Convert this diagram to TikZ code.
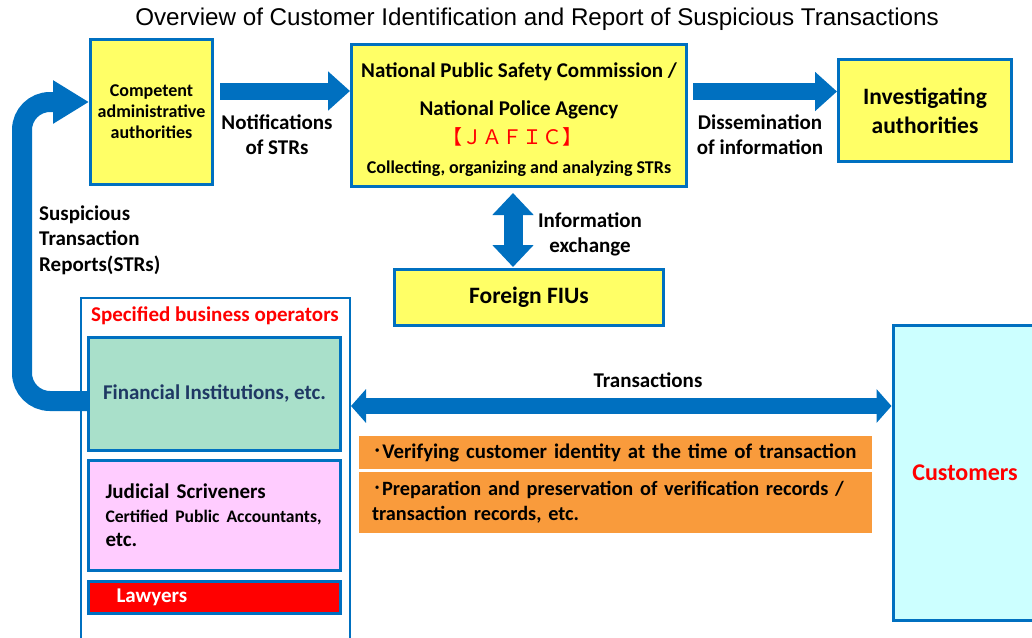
\documentclass[tikz,border=0pt]{standalone}
\usepackage{fontspec}
\setmainfont{Carlito}
\newfontfamily\titlefont{Liberation Sans}
\newfontfamily\cjk{Noto Sans CJK JP}
\usetikzlibrary{arrows.meta}
\definecolor{jblue}{HTML}{0070C0}
\definecolor{jyellow}{HTML}{FFFF66}
\definecolor{jgreen}{HTML}{A9E0CA}
\definecolor{jpink}{HTML}{FFCCFF}
\definecolor{jcyan}{HTML}{CCFFFF}
\definecolor{jorange}{HTML}{F99B3C}
\definecolor{jnavy}{HTML}{1F3864}
\newcommand{\fsize}[2]{\fontsize{#1}{#2}\selectfont}

\begin{document}
\begin{tikzpicture}[x=1pt, y=-1pt,
    box/.style={draw=jblue, line width=3pt, fill=jyellow, align=center,
                inner sep=0pt, font=\bfseries},
    duty/.style={fill=jorange, align=left, text width=487pt, inner xsep=13pt,
                 inner ysep=0pt, font=\bfseries\fsize{20.8}{25}},
    lbl/.style={align=center, inner sep=0pt, font=\bfseries\fsize{21}{25}},
    bigarrow/.style={draw=jblue, line width=17pt,
                     -{Triangle[width=38pt, length=22pt]}},
    dblarrow/.style={draw=jblue, line width=16pt,
                     {Triangle[width=33pt, length=15pt]}-{Triangle[width=33pt, length=15pt]}},
    strarrow/.style={draw=jblue, line width=20pt, rounded corners=28pt,
                     -{Triangle[width=41pt, length=36pt]}}]
  \useasboundingbox (0, 0) rectangle (1032, 637);

  % Title.
  \node [inner sep=0pt, font=\titlefont\fsize{24.2}{28}] (title) at (537, 19.5)
        {Overview of Customer Identification and Report of Suspicious Transactions};

  % Draw top row boxes.
  \node [box, minimum width=122pt, minimum height=145pt, font=\bfseries\fsize{18}{21}]
        (comp) at (151.5, 112) {Competent\\administrative\\authorities};
  \node [box, minimum width=335pt, minimum height=142pt, font=\bfseries\fsize{21}{29}]
        (npsc) at (519, 115.5)
        {\rule{0pt}{24pt}National Public Safety Commission /\\[9pt]
         National Police Agency\\
         {\cjk\mdseries\fsize{20}{29}\color{red}【ＪＡＦＩＣ】\kern14pt}\\
         {\fsize{18}{29}Collecting, organizing and analyzing STRs}};
  \node [box, minimum width=173pt, minimum height=102pt, font=\bfseries\fsize{23.5}{29}]
        (inv) at (925, 110.5) {Investigating\\authorities};
  \node [box, minimum width=269pt, minimum height=56pt, font=\bfseries\fsize{23.5}{27}]
        (fiu) at (529, 297.5) {Foreign FIUs};

  % Draw specified business operators.
  \node [draw=jblue, line width=2pt, fill=white, minimum width=269pt, minimum height=346pt]
        (spec) at (215.5, 471) {};
  \node [inner sep=0pt, text=red, font=\bfseries\fsize{21}{24}]
        (spectxt) at (215, 316) {Specified business operators};
  \node [box, fill=jgreen, text=jnavy, minimum width=252pt, minimum height=113pt,
         font=\bfseries\fsize{21}{24}]
        (fin) at (214.5, 394) {Financial Institutions, etc.};
  \node [box, fill=jpink, align=left, text width=218pt, inner xsep=17pt,
         minimum height=110pt, font=\bfseries\fsize{21}{24}]
        (jud) at (214.5, 515.5)
        {Judicial Scriveners\\
         {\fsize{17.6}{23}Certified Public Accountants,}\\
         etc.};
  \node [box, fill=red, text=white, align=left, text width=196pt, inner xsep=28pt,
         minimum height=32pt, font=\bfseries\fsize{21}{24}]
        (law) at (214.5, 597.5) {Lawyers};

  % Draw customers and duties.
  \node [box, fill=jcyan, text=red, minimum width=144pt, minimum height=295pt,
         font=\bfseries\fsize{24}{28}]
        (cust) at (965, 472.5) {Customers};
  \node [duty, minimum height=33pt] (ver) at (615.5, 452.5)
        {\mbox{{\cjk\mdseries ･}Verifying customer identity at the time of transaction}};
  \node [duty, minimum height=61pt, font=\bfseries\fsize{20.3}{25}] (prep) at (615.5, 502.5)
        {\mbox{{\cjk\mdseries ･}Preparation and preservation of verification records /}\\
         transaction records, etc.};

  % Draw arrows.
  \draw [bigarrow, shorten <=6pt] ([yshift=21pt]comp.east) -- ([yshift=21pt]comp.east -| npsc.west);
  \draw [bigarrow, shorten <=5pt] ([yshift=24pt]npsc.east) -- ([yshift=24pt]npsc.east -| inv.west);
  \draw [bigarrow, line width=19pt,
         {Triangle[width=40pt, length=22pt]}-{Triangle[width=40pt, length=22pt]},
         shorten <=5pt, shorten >=1pt]
        ([xshift=-6pt]npsc.south) -- ([xshift=-6pt]npsc.south |- fiu.north);
  \draw [dblarrow] (spec.east |- 0, 406) -- (cust.west |- 0, 406);
  \draw [strarrow] (fin.west |- 0, 401) -| (22, 250) |- ([yshift=10pt]comp.west);

  % Arrow labels.
  \node [lbl] (notetxt) at (277, 134.5) {Notifications\\of STRs};
  \node [lbl] (disstxt) at (760, 134.5) {Dissemination\\of information};
  \node [lbl] (infotxt) at (590, 234.5) {Information\\exchange};
  \node [lbl, align=left, anchor=west, font=\bfseries\fsize{21}{25.5}]
        (strtxt) at (39, 240) {Suspicious\\Transaction\\Reports(STRs)};
  \node [lbl] (txtxt) at (648, 380) {Transactions};
\end{tikzpicture}
\end{document}
